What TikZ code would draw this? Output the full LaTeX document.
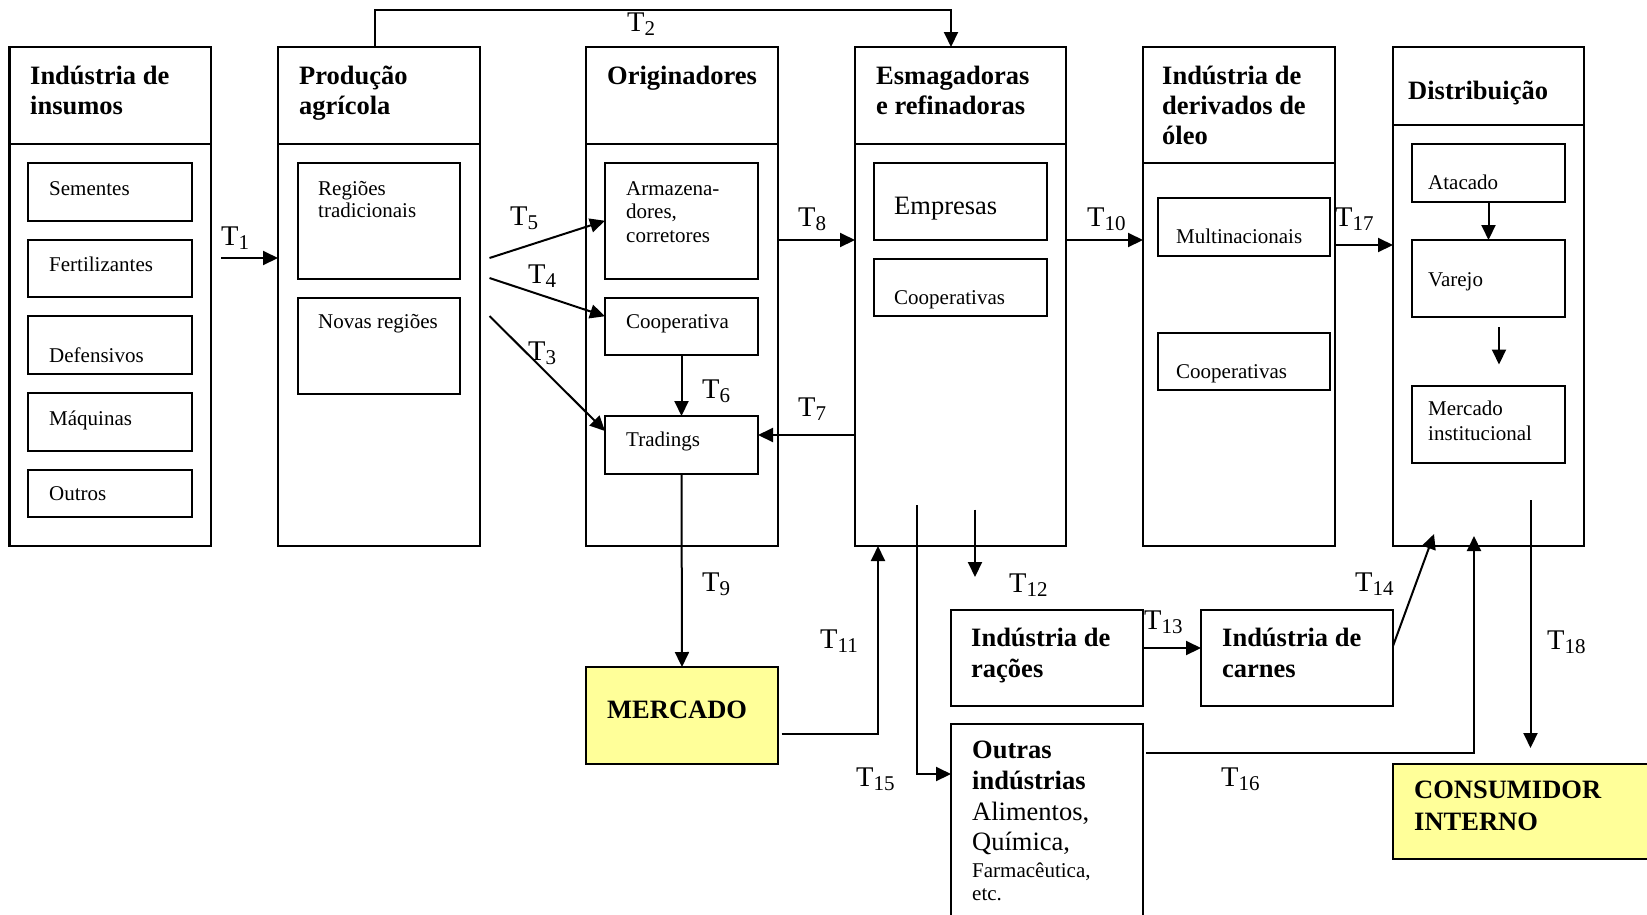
\documentclass[tikz,border=0pt]{standalone}
\usepackage{fontspec}
\setmainfont{Liberation Serif}
\usetikzlibrary{arrows.meta}
\definecolor{paleyellow}{HTML}{FFFF99}
\newcommand\Tl[1]{T\raisebox{-4pt}{\fontsize{21}{21}\selectfont #1}}
\tikzset{
  box/.style={draw, line width=2.1pt, inner sep=0pt, outer sep=0pt, anchor=north west},
  subbox/.style={draw, line width=2pt, inner sep=0pt, outer sep=0pt, anchor=north west},
  conn/.style={line width=2pt, -{Triangle[length=15pt,width=14pt]}},
  plainln/.style={line width=2pt},
  ttl/.style={anchor=base west, inner sep=0pt, font=\fontsize{26.5}{29.6}\selectfont\bfseries},
  txt/.style={anchor=base west, inner sep=0pt, font=\fontsize{21}{22}\selectfont},
  bigtxt/.style={anchor=base west, inner sep=0pt, font=\fontsize{26.5}{29.6}\selectfont},
  tlab/.style={anchor=base west, inner sep=0pt, font=\fontsize{28.5}{30}\selectfont},
}
\begin{document}
\begin{tikzpicture}[x=1pt,y=-1pt]
\useasboundingbox (0,0) rectangle (1647,914);
% ---------- main columns ----------
\node[box, minimum width=201.5pt, minimum height=97pt]  (h1) at (9.5,47) {};
\node[box, minimum width=201.5pt, minimum height=402pt] (b1) at (9.5,144) {};
\node[box, minimum width=202pt, minimum height=97pt]  (h2) at (278,47) {};
\node[box, minimum width=202pt, minimum height=402pt] (b2) at (278,144) {};
\node[box, minimum width=192pt, minimum height=97pt]  (h3) at (586,47) {};
\node[box, minimum width=192pt, minimum height=402pt] (b3) at (586,144) {};
\node[box, minimum width=211pt, minimum height=97pt]  (h4) at (855,47) {};
\node[box, minimum width=211pt, minimum height=402pt] (b4) at (855,144) {};
\node[box, minimum width=192pt, minimum height=116pt] (h5) at (1143,47) {};
\node[box, minimum width=192pt, minimum height=383pt] (b5) at (1143,163) {};
\node[box, minimum width=191pt, minimum height=78pt]  (h6) at (1393,47) {};
\node[box, minimum width=191pt, minimum height=421pt] (b6) at (1393,125) {};
% titles
\node[ttl] (h1a) at (30,84.6) {Indústria de};
\node[ttl] (h1b) at (30,114) {insumos};
\node[ttl] (h2a) at (299,84.6) {Produção};
\node[ttl] (h2b) at (299,114) {agrícola};
\node[ttl] (h3a) at (607,84.6) {Originadores};
\node[ttl] (h4a) at (876,84.6) {Esmagadoras};
\node[ttl] (h4b) at (876,114) {e refinadoras};
\node[ttl] (h5a) at (1162,84.6) {Indústria de};
\node[ttl] (h5b) at (1162,114) {derivados de};
\node[ttl] (h5c) at (1162,144) {óleo};
\node[ttl] (h6a) at (1408,99) {Distribuição};
% ---------- inner boxes ----------
\node[subbox, minimum width=164pt, minimum height=58pt] (s1) at (28,163) {};
\node[subbox, minimum width=164pt, minimum height=57pt] (s2) at (28,240) {};
\node[subbox, minimum width=164pt, minimum height=58pt] (s3) at (28,316) {};
\node[subbox, minimum width=164pt, minimum height=58pt] (s4) at (28,393) {};
\node[subbox, minimum width=164pt, minimum height=47pt] (s5) at (28,470) {};
\node[txt] (s1t) at (49,195) {Sementes};
\node[txt] (s2t) at (49,271) {Fertilizantes};
\node[txt] (s3t) at (49,362) {Defensivos};
\node[txt] (s4t) at (49,425) {Máquinas};
\node[txt] (s5t) at (49,500) {Outros};

\node[subbox, minimum width=162pt, minimum height=115.5pt] (r1) at (298,163) {};
\node[subbox, minimum width=162pt, minimum height=96.5pt] (r2) at (298,297.5) {};
\node[txt] (r1a) at (318,195) {Regiões};
\node[txt] (r1b) at (318,217) {tradicionais};
\node[txt] (r2a) at (318,328) {Novas regiões};

\node[subbox, minimum width=153pt, minimum height=115.5pt] (o1) at (605,163) {};
\node[subbox, minimum width=153pt, minimum height=57.5pt] (o2) at (605,297.5) {};
\node[subbox, minimum width=153pt, minimum height=58pt] (o3) at (605,416) {};
\node[txt] (o1a) at (626,195) {Armazena-};
\node[txt] (o1b) at (626,218.5) {dores,};
\node[txt] (o1c) at (626,242) {corretores};
\node[txt] (o2t) at (626,328) {Cooperativa};
\node[txt] (o3t) at (626,446) {Tradings};

\node[subbox, minimum width=173pt, minimum height=77pt] (e1) at (874,163) {};
\node[subbox, minimum width=173pt, minimum height=57pt] (e2) at (874,259) {};
\node[bigtxt] (e1t) at (894,214) {Empresas};
\node[txt] (e2t) at (894,304) {Cooperativas};

\node[subbox, minimum width=172pt, minimum height=58pt] (d1) at (1158,197.5) {};
\node[subbox, minimum width=172pt, minimum height=57pt] (d2) at (1158,333) {};
\node[txt] (d1t) at (1176,243) {Multinacionais};
\node[txt] (d2t) at (1176,378) {Cooperativas};

\node[subbox, minimum width=153pt, minimum height=58pt] (t1) at (1412,144) {};
\node[subbox, minimum width=153pt, minimum height=77pt] (t2) at (1412,240) {};
\node[subbox, minimum width=153pt, minimum height=77pt] (t3) at (1412,385.5) {};
\node[txt] (t1t) at (1428,189) {Atacado};
\node[txt] (t2t) at (1428,286) {Varejo};
\node[txt] (t3a) at (1428,415) {Mercado};
\node[txt] (t3b) at (1428,440) {institucional};

% ---------- lower boxes ----------
\node[box, fill=paleyellow, minimum width=192pt, minimum height=97pt] (merc) at (586,667) {};
\node[ttl] (merct) at (607,718) {MERCADO};
\node[box, minimum width=192pt, minimum height=96pt] (racoes) at (951,610) {};
\node[ttl] (raca) at (971,646) {Indústria de};
\node[ttl] (racb) at (971,677) {rações};
\node[box, minimum width=192pt, minimum height=96pt] (carnes) at (1201,610) {};
\node[ttl] (cara) at (1222,646) {Indústria de};
\node[ttl] (carb) at (1222,677) {carnes};
\node[box, minimum width=192pt, minimum height=215pt] (outras) at (951,724) {};
\node[ttl] (outa) at (972,758) {Outras};
\node[ttl] (outb) at (972,789) {indústrias};
\node[bigtxt] (outc) at (972,820) {Alimentos,};
\node[bigtxt] (outd) at (972,850) {Química,};
\node[txt] (oute) at (972,877) {Farmacêutica,};
\node[txt] (outf) at (972,900) {etc.};
\node[box, fill=paleyellow, minimum width=280pt, minimum height=95pt] (cons) at (1393,764) {};
\node[ttl] (consa) at (1414,798) {CONSUMIDOR};
\node[ttl] (consb) at (1414,830) {INTERNO};

% ---------- connectors ----------
\coordinate (t1s) at (221,258);
\draw[conn] (t1s) -- (t1s -| b2.west);
\node[tlab] (T1) at (221,245) {\Tl{1}};

\coordinate (t2a) at (375,9.5);
\coordinate (t2b) at (951,9.5);
\draw[conn] (t2a |- h2.north) -- (t2a) -- (t2b) -- (t2b |- h4.north);
\node[tlab] (T2) at (627,31.5) {\Tl{2}};

\coordinate (f5) at (489.5,258);
\coordinate (f4) at (489.5,278);
\coordinate (f3) at (489.5,316);
\draw[conn] (f5) -- (o1.west);
\draw[conn] (f4) -- ([yshift=10pt]o2.west);
\draw[conn] (f3) -- ([yshift=14pt]o3.west);
\node[tlab] (T5) at (510,225) {\Tl{5}};
\node[tlab] (T4) at (528,283) {\Tl{4}};
\node[tlab] (T3) at (528,360) {\Tl{3}};

\draw[conn] (o2.south) -- (o3.north);
\node[tlab] (T6) at (702,398.5) {\Tl{6}};

\coordinate (t7e) at ([yshift=10pt]o3.east);
\draw[conn] (t7e -| b4.west) -- (t7e);
\node[tlab] (T7) at (798,416.5) {\Tl{7}};

\coordinate (lv8) at (0,240);
\draw[conn] (lv8 -| b3.east) -- (lv8 -| b4.west);
\node[tlab] (T8) at (798,226) {\Tl{8}};

\draw[conn] (lv8 -| b4.east) -- (lv8 -| b5.west);
\node[tlab] (T10) at (1087,226) {\Tl{10}};

\coordinate (lv17) at (0,245);
\draw[conn] (lv17 -| b5.east) -- (lv17 -| b6.west);
\node[tlab] (T17) at (1335,226) {\Tl{17}};

\draw[conn] (t1.south) -- (t2.north);
\coordinate (la) at (1499,327);
\coordinate (lb) at (1499,364.5);
\draw[conn] (la) -- (lb);

\draw[conn] (o3.south) -- (merc.north);
\node[tlab] (T9) at (702,591) {\Tl{9}};

\coordinate (t11a) at (781.5,734);
\coordinate (t11b) at (878,734);
\draw[conn] (t11a) -- (t11b) -- (t11b |- b4.south);
\node[tlab] (T11) at (820,648) {\Tl{11}};

\coordinate (t12a) at (975,509.5);
\coordinate (t12b) at (975,577);
\draw[conn] (t12a) -- (t12b);
\node[tlab] (T12) at (1009,592) {\Tl{12}};

\coordinate (t15a) at (917,505);
\coordinate (t15b) at (917,774);
\draw[conn] (t15a) -- (t15b) -- (t15b -| outras.west);
\node[tlab] (T15) at (856,786) {\Tl{15}};

\coordinate (lv13) at (0,648);
\draw[conn] (lv13 -| racoes.east) -- (lv13 -| carnes.west);
\node[tlab] (T13) at (1144,629) {\Tl{13}};

\coordinate (t14e) at (1434,534);
\draw[conn] ([yshift=12pt]carnes.east) -- (t14e);
\node[tlab] (T14) at (1355,591) {\Tl{14}};

\coordinate (t16a) at (1146,753);
\coordinate (t16b) at (1474,753);
\coordinate (t16c) at (1474,536);
\draw[conn] (t16a) -- (t16b) -- (t16c);
\node[tlab] (T16) at (1221,786) {\Tl{16}};

\coordinate (t18a) at (1530.5,500);
\coordinate (t18b) at (1530.5,748);
\draw[conn] (t18a) -- (t18b);
\node[tlab] (T18) at (1547,649) {\Tl{18}};
\end{tikzpicture}
\end{document}
